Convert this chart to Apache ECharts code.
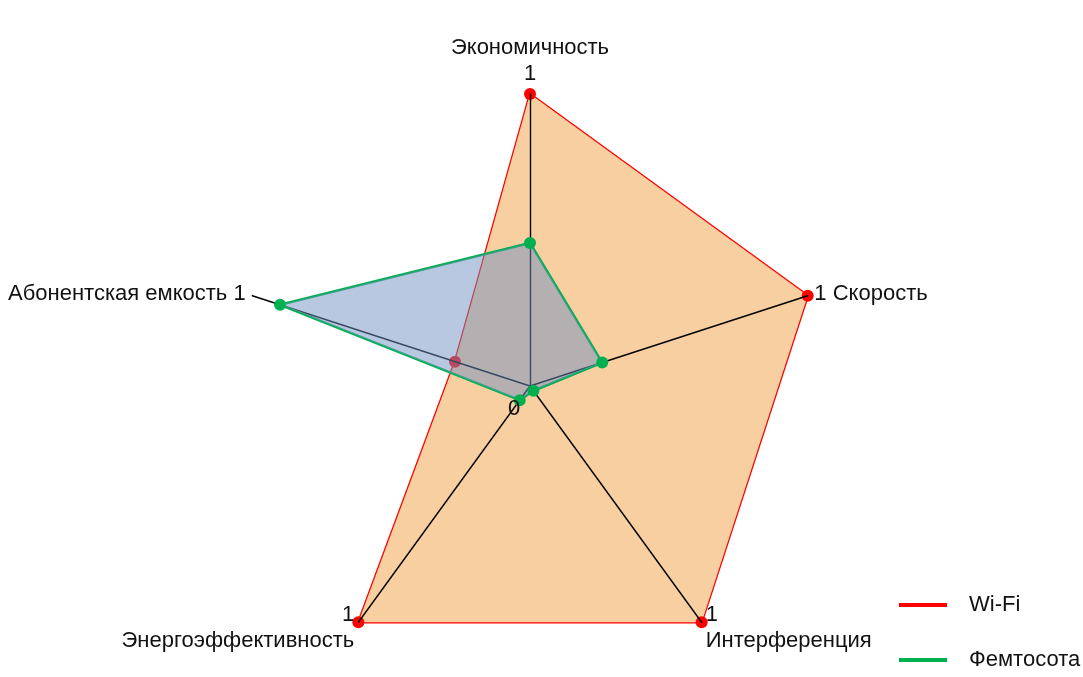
<!DOCTYPE html>
<html>
<head>
<meta charset="utf-8">
<script src="https://cdn.jsdelivr.net/npm/echarts@6/dist/echarts.min.js"></script>
<style>
    html, body { margin: 0; padding: 0; background: #fff; }
    #chart { width: 1083px; height: 677px; }
</style>
</head>
<body>
<div id="chart"></div>
<script>
    // radar goes counter-clockwise from the top
    var indicators = ['Экономичность', 'Абонентская емкость', 'Энергоэффективность', 'Интерференция', 'Скорость']
    var axisMax = 1
    var wifiValues = [1, 0.27, 1, 1, 1]
    var femtoValues = [0.49, 0.9, 0.06, 0.02, 0.26]

    var nameLabels = {
        'Экономичность': 'Экономичность\n1',
        'Абонентская емкость': 'Абонентская емкость 1',
        'Энергоэффективность': '1\nЭнергоэффективность',
        'Интерференция': '1\nИнтерференция',
        'Скорость': '1 Скорость'
    }

    var cx = 530
    var cy = 386
    var font = '"Liberation Sans", Arial, sans-serif'

    var chart = echarts.init(document.getElementById('chart'))
    chart.setOption({
        backgroundColor: '#fff',
        animation: false,
        textStyle: { fontFamily: font },
        legend: {
            orient: 'vertical',
            left: 899,
            top: 594,
            padding: 0,
            icon: 'rect',
            itemWidth: 48,
            itemHeight: 4,
            itemGap: 33,
            textStyle: { fontSize: 22, color: '#111', padding: [0, 0, 0, 17], lineHeight: 22 },
            data: ['Wi-Fi', 'Фемтосота']
        },
        radar: {
            z: 2,
            center: [cx, cy],
            radius: 292,
            startAngle: 90,
            shape: 'polygon',
            splitNumber: 1,
            axisNameGap: 7,
            axisName: {
                color: '#111',
                fontSize: 22,
                lineHeight: 26,
                fontFamily: font,
                formatter: function (name) { return nameLabels[name] }
            },
            axisLine: { lineStyle: { color: '#000', width: 1.4 } },
            axisTick: { show: false },
            axisLabel: { show: false },
            splitLine: { show: false },
            splitArea: { show: false },
            indicator: indicators.map(function (n) { return { name: n, min: 0, max: axisMax } })
        },
        graphic: [{
            type: 'text',
            z: 10,
            left: cx - 22,
            top: cy + 12,
            style: { text: '0', fill: '#111', font: '22px ' + font }
        }],
        series: [{
            name: 'Wi-Fi',
            type: 'radar',
            z: 1,
            symbol: 'circle',
            symbolSize: 12,
            itemStyle: { color: '#FF0000' },
            lineStyle: { color: '#FF0000', width: 2.5 },
            areaStyle: { color: '#F8CFA0', opacity: 1 },
            data: [{ name: 'Wi-Fi', value: wifiValues }]
        }, {
            name: 'Фемтосота',
            type: 'radar',
            z: 3,
            symbol: 'circle',
            symbolSize: 12,
            itemStyle: { color: '#00B050' },
            lineStyle: { color: '#00B050', width: 2.5 },
            areaStyle: { color: 'rgba(112,145,193,0.5)', opacity: 1 },
            data: [{ name: 'Фемтосота', value: femtoValues }]
        }]
    })
</script>
</body>
</html>
